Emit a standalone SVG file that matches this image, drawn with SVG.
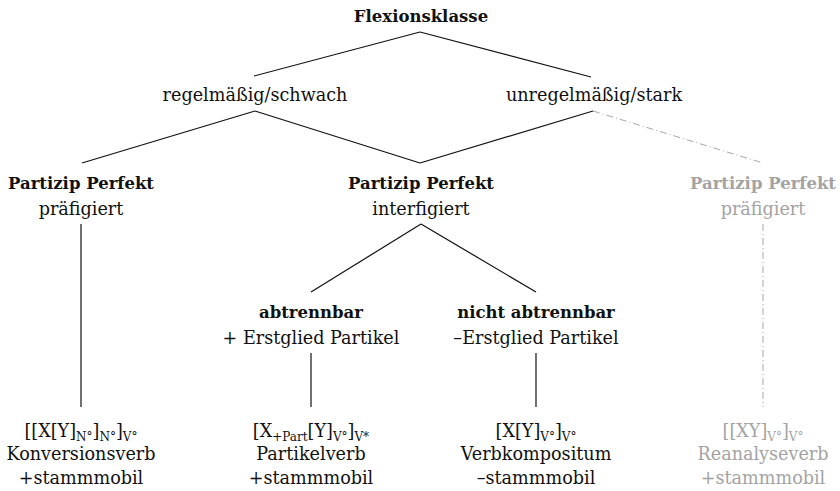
<svg xmlns="http://www.w3.org/2000/svg" width="840" height="491" viewBox="0 0 840 491">
<style>
text{font-family:"DejaVu Serif","Liberation Serif",serif;fill:#111;text-anchor:middle}
.b{font-weight:bold;font-size:16.5px}
.r{font-size:17.6px}
.s{font-size:12px}
.g{fill:#a3a3a3}
.ln{stroke:#111;stroke-width:1.2;fill:none}
.dd{stroke:#a8a8a8;stroke-width:1;fill:none;stroke-dasharray:7 3 1 3}
</style>
<rect width="840" height="491" fill="#fff"/>
<g id="connectors">
<line class="ln" x1="420" y1="32" x2="254" y2="76"/>
<line class="ln" x1="420" y1="32" x2="591" y2="77"/>
<line class="ln" x1="255" y1="111" x2="82" y2="163"/>
<line class="ln" x1="255" y1="111" x2="420" y2="163"/>
<line class="ln" x1="593" y1="111" x2="420" y2="163"/>
<line class="dd" x1="593" y1="111" x2="763" y2="163"/>
<line class="ln" x1="81" y1="224" x2="81" y2="407"/>
<line class="ln" x1="421" y1="224" x2="311" y2="292"/>
<line class="ln" x1="421" y1="224" x2="536" y2="292"/>
<line class="ln" x1="311" y1="353" x2="311" y2="407"/>
<line class="ln" x1="536" y1="353" x2="536" y2="407"/>
<line class="dd" x1="763" y1="224" x2="763" y2="407"/>
</g>
<g id="flexionsklasse"><text class="b" x="421" y="22">Flexionsklasse</text></g>
<g id="regelmaessig"><text class="r" x="255" y="101">regelmäßig/schwach</text></g>
<g id="unregelmaessig"><text class="r" x="594" y="101">unregelmäßig/stark</text></g>
<g id="pp-praefigiert"><text class="b" x="81" y="189">Partizip Perfekt</text><text class="r" x="81" y="215">präfigiert</text></g>
<g id="pp-interfigiert"><text class="b" x="421" y="189">Partizip Perfekt</text><text class="r" x="421" y="215">interfigiert</text></g>
<g id="pp-praefigiert-grau"><text class="b g" x="763" y="189">Partizip Perfekt</text><text class="r g" x="763" y="215">präfigiert</text></g>
<g id="abtrennbar"><text class="b" x="311" y="318">abtrennbar</text><text class="r" x="311" y="344">+ Erstglied Partikel</text></g>
<g id="nicht-abtrennbar"><text class="b" x="536" y="318">nicht abtrennbar</text><text class="r" x="536" y="344">–Erstglied Partikel</text></g>
<g id="konversionsverb">
<text class="r" x="81" y="437">[[X[Y]<tspan class="s" dy="4">N°</tspan><tspan dy="-4">]</tspan><tspan class="s" dy="4">N°</tspan><tspan dy="-4">]</tspan><tspan class="s" dy="4">V°</tspan></text>
<text class="r" x="81" y="460">Konversionsverb</text>
<text class="r" x="81" y="484">+stammmobil</text>
</g>
<g id="partikelverb">
<text class="r" x="311" y="437">[X<tspan class="s" dy="4">+Part</tspan><tspan dy="-4">[Y]</tspan><tspan class="s" dy="4">V°</tspan><tspan dy="-4">]</tspan><tspan class="s" dy="4">V*</tspan></text>
<text class="r" x="311" y="460">Partikelverb</text>
<text class="r" x="311" y="484">+stammmobil</text>
</g>
<g id="verbkompositum">
<text class="r" x="536" y="437">[X[Y]<tspan class="s" dy="4">V°</tspan><tspan dy="-4">]</tspan><tspan class="s" dy="4">V°</tspan></text>
<text class="r" x="536" y="460">Verbkompositum</text>
<text class="r" x="536" y="484">–stammmobil</text>
</g>
<g id="reanalyseverb">
<text class="r g" x="763" y="437">[[XY]<tspan class="s" dy="4">V°</tspan><tspan dy="-4">]</tspan><tspan class="s" dy="4">V°</tspan></text>
<text class="r g" x="763" y="460">Reanalyseverb</text>
<text class="r g" x="763" y="484">+stammmobil</text>
</g>
</svg>
